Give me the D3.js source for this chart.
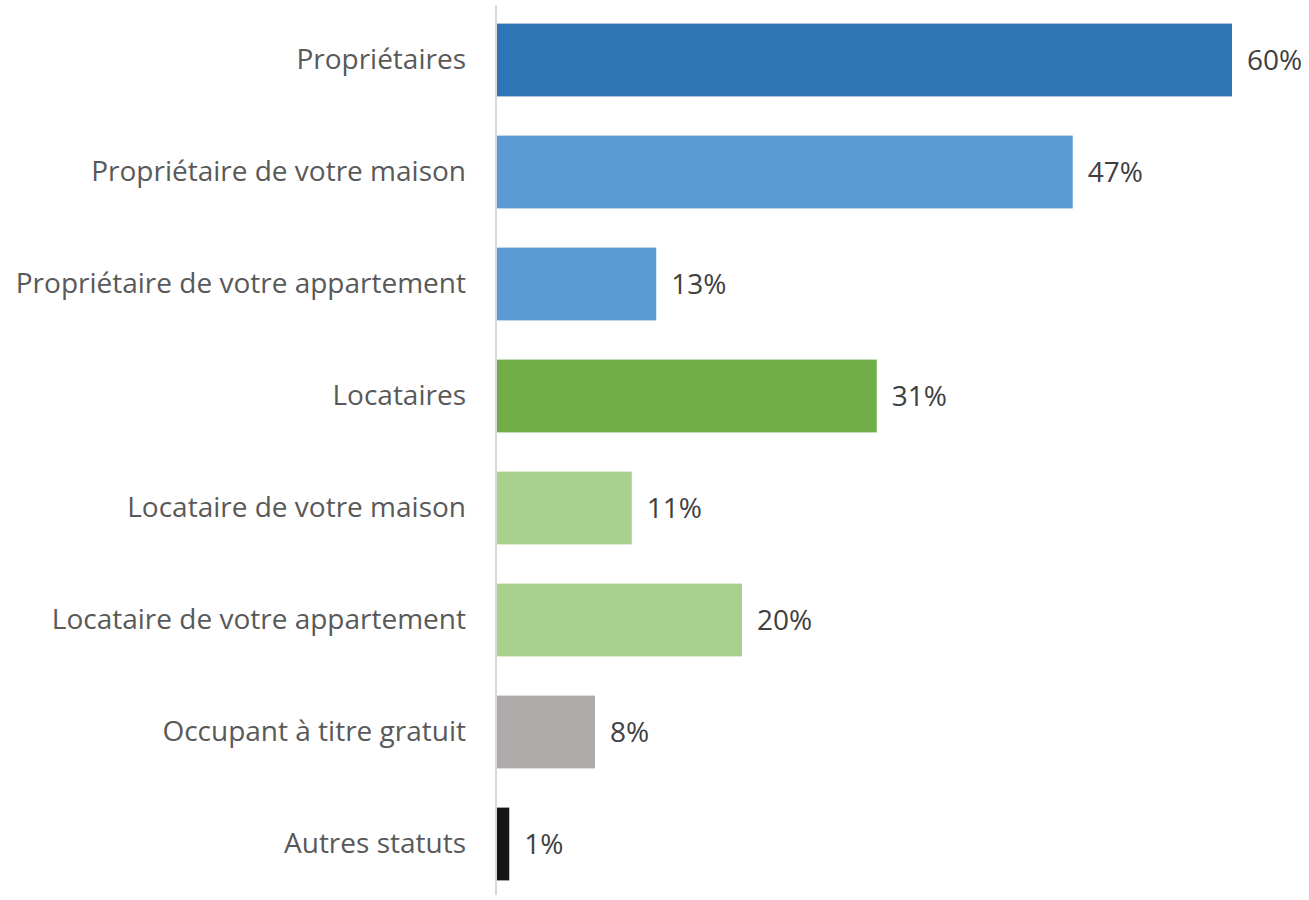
<!DOCTYPE html>
<html>
<head>
	<meta charset="utf-8">
	<title>Statut d'occupation</title>
	<script src="https://d3js.org/d3.v7.min.js"></script>
	<style>
		body { margin: 0; background: #fff; }
		text { font-family: "Open Sans", sans-serif; }
	</style>
</head>
<body>
	<script>
		var categories = [
			"Propriétaires",
			"Propriétaire de votre maison",
			"Propriétaire de votre appartement",
			"Locataires",
			"Locataire de votre maison",
			"Locataire de votre appartement",
			"Occupant à titre gratuit",
			"Autres statuts"
		];
		var values = [60, 47, 13, 31, 11, 20, 8, 1];
		var colors = ["#2E75B6", "#5B9BD5", "#5B9BD5", "#70AD47", "#A9D18E", "#A9D18E", "#AFABAB", "#161616"];

		var width = 1309, height = 900;
		var x0 = 497, y0 = 4, y1 = 900;

		var svg = d3.select("body").append("svg")
			.attr("width", width)
			.attr("height", height);

		var x = d3.scaleLinear().domain([0, 60]).range([x0, 1232]);
		var y = d3.scaleBand().domain(categories).range([y0, y1]).paddingInner(0.35).paddingOuter(0.175);

		var data = categories.map(function(c, i) { return { cat: c, v: values[i], col: colors[i] }; });

		// bars
		svg.selectAll("rect.bar")
			.data(data)
			.enter().append("rect")
			.attr("class", "bar")
			.attr("x", x(0))
			.attr("y", function(d) { return y(d.cat); })
			.attr("width", function(d) { return x(d.v) - x(0); })
			.attr("height", y.bandwidth())
			.attr("fill", function(d) { return d.col; });

		// category axis
		var yAxis = d3.axisLeft(y).tickSize(0).tickPadding(30);
		var g = svg.append("g")
			.attr("transform", "translate(" + (x0 - 1) + ",0)")
			.call(yAxis);
		g.select(".domain").attr("stroke", "#D9D9D9").attr("stroke-width", 2)
			.attr("d", "M0," + 5 + "V" + 895);
		g.selectAll("text")
			.attr("fill", "#595959")
			.style("font-size", "28px")
			.style("font-family", "'Open Sans', sans-serif");

		// value labels
		svg.selectAll("text.val")
			.data(data)
			.enter().append("text")
			.attr("class", "val")
			.attr("x", function(d) { return x(d.v) + 15; })
			.attr("y", function(d) { return y(d.cat) + y.bandwidth() / 2; })
			.attr("dy", "0.35em")
			.attr("fill", "#404040")
			.style("font-size", "28px")
			.text(function(d) { return d.v + "%"; });
	</script>
</body>
</html>
